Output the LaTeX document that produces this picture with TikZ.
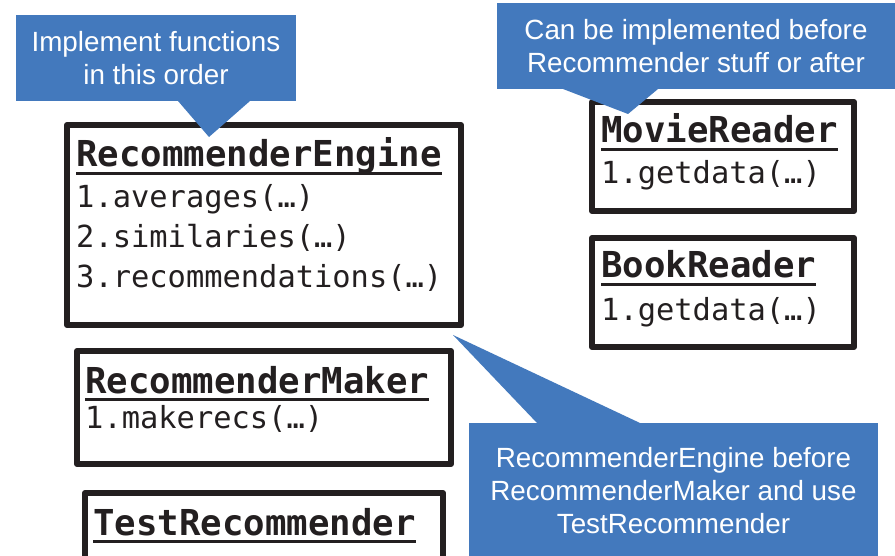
\documentclass[tikz,border=0pt]{standalone}
\usepackage{fontspec}
\setmainfont{Liberation Sans}
\setmonofont{DejaVu Sans Mono}
\usetikzlibrary{calc}
\definecolor{noteblue}{RGB}{67,121,189}
\definecolor{boxline}{RGB}{35,31,32}

\begin{document}
\begin{tikzpicture}
		[x=1pt,y=-1pt,
		classbox/.style={rectangle,draw=boxline,line width=6pt,line join=round,inner sep=0pt},
		classname/.style={anchor=base west,inner sep=0pt,text=boxline,
font=\ttfamily\bfseries\fontsize{35.7}{40}\selectfont},
		method/.style={anchor=base west,inner sep=0pt,text=boxline,
font=\ttfamily\fontsize{30.4}{36}\selectfont},
		nameline/.style={draw=boxline,line width=3pt},
		note/.style={rectangle,fill=noteblue,text=white,align=center,
inner sep=0pt,outer sep=0pt,font=\fontsize{27.8}{33.3}\selectfont},
		pointer/.style={fill=noteblue}]
		\useasboundingbox (0,0) rectangle (895,556);
		% class boxes
		\node at (264,225) (engine) [classbox,minimum width=394pt,minimum height=200pt] {};
		\node at (723,156.5) (movie) [classbox,minimum width=262pt,minimum height=109pt] {};
		\node at (723,292.5) (book) [classbox,minimum width=262pt,minimum height=109pt] {};
		\node at (264,407.5) (maker) [classbox,minimum width=374pt,minimum height=113pt] {};
		\node at (264,546.5) (test) [classbox,minimum width=358pt,minimum height=107pt] {};
		% names and methods
		\node at (76,167) (engine-name) [classname] {RecommenderEngine};
		\node at (76,208) (engine-1) [method] {1.averages(…)};
		\node at (76,248) (engine-2) [method] {2.similaries(…)};
		\node at (76,288) (engine-3) [method] {3.recommendations(…)};
		\node at (601,143) (movie-name) [classname] {MovieReader};
		\node at (601,184) (movie-1) [method] {1.getdata(…)};
		\node at (601,278) (book-name) [classname] {BookReader};
		\node at (601,321) (book-1) [method] {1.getdata(…)};
		\node at (85,393) (maker-name) [classname] {RecommenderMaker};
		\node at (85,428) (maker-1) [method] {1.makerecs(…)};
		\node at (93,535) (test-name) [classname] {TestRecommender};
		\foreach \n in {engine,movie,book,maker,test}
			\draw[nameline] ($(\n-name.base west)+(0,6.5)$) -- ($(\n-name.base east)+(0,6.5)$);
		% notes
		\node at (156,58) (note1) [note,minimum width=280pt,minimum height=86pt]
			{Implement functions\\in this order};
		\node at (696,46) (note2) [note,minimum width=398pt,minimum height=86pt]
			{Can be implemented before\\Recommender stuff or after};
		\node at (673.5,490.5) (note3) [note,minimum width=409pt,minimum height=135pt]
			{RecommenderEngine before\\RecommenderMaker and use\\TestRecommender};
		\coordinate (tip1) at (209,137);
		\coordinate (tip2) at (628,114);
		\coordinate (tip3) at (453,335);
		\fill[pointer] ($(note1.south west)+(162,0)$) -- (tip1) -- ($(note1.south west)+(234,0)$) -- cycle;
		\fill[pointer] ($(note2.south west)+(66,0)$) -- (tip2) -- ($(note2.south west)+(161,0)$) -- cycle;
		\fill[pointer] ($(note3.north west)+(68,0)$) -- (tip3) -- ($(note3.north west)+(171,0)$) -- cycle;
	\end{tikzpicture}
\end{document}
